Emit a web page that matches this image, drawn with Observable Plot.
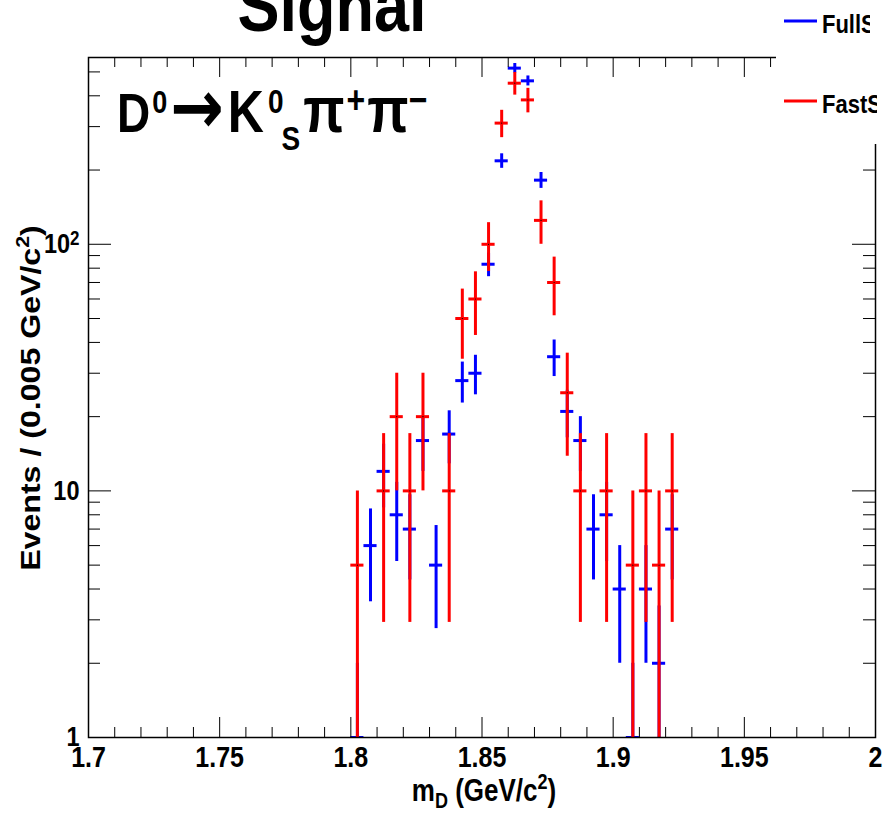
<!DOCTYPE html>
<html><head><meta charset="utf-8">
<script src="https://cdn.jsdelivr.net/npm/d3@7"></script>
<script src="https://cdn.jsdelivr.net/npm/@observablehq/plot@0.6"></script>
<style>html,body{margin:0;padding:0;background:#fff;} #chart{width:885px;height:815px;overflow:hidden;}</style>
</head><body><div id="chart"></div>
<script>
// ---- data ----
const binCenters = [1.8025,1.8075,1.8125,1.8175,1.8225,1.8275,1.8325,1.8375,1.8425,1.8475,1.8525,1.8575,1.8625,1.8675,1.8725,1.8775,1.8825,1.8875,1.8925,1.8975,1.9025,1.9075,1.9125,1.9175,1.9225];
const fullSimEvents = [1,6,12,8,7,16,5,17,28,30,83,218,518,460,182,35,21,16,7,8,4,1,4,2,7];
const fastSimEvents = [5,null,10,20,10,20,null,10,50,60,100,310,450,385,125,70,25,10,null,10,null,5,10,5,10];
const fastSimWeight = 5;
const binWidth = 0.005;
const xTicks = [1.7,1.75,1.8,1.85,1.9,1.95,2.0];
const xTickLabels = ["1.7","1.75","1.8","1.85","1.9","1.95","2"];
const xMinorTicks = [1.71,1.72,1.73,1.74,1.76,1.77,1.78,1.79,1.81,1.82,1.83,1.84,1.86,1.87,1.88,1.89,1.91,1.92,1.93,1.94,1.96,1.97,1.98,1.99];
const yTicks = [1,10,100];
const yTickLabels = ["1","10","10^2"];
const yMinorTicks = [2,3,4,5,6,7,8,9,20,30,40,50,60,70,80,90,200,300,400,500];
const legendLabels = ["FullSim","FastSim"];
const seriesColors = ["#0000ff","#ff0000"];

// ---- derived tables ----
const full = binCenters.map((x,i)=>({x, v: fullSimEvents[i], e: fullSimEvents[i]==null?0:Math.sqrt(fullSimEvents[i])})).filter(d=>d.v!=null);
const fast = binCenters.map((x,i)=>({x, v: fastSimEvents[i], e: fastSimEvents[i]==null?0:Math.sqrt(fastSimWeight*fastSimEvents[i])})).filter(d=>d.v!=null);

const FONT = "'Liberation Sans', Arial, Helvetica, sans-serif";
const W=885, H=815, mT=57, mR=10, mB=78, mL=88;
const FW = W-mL-mR, FH = H-mT-mB;
const K = 1.19; // vertical stretch of text
const SVGNS = "http://www.w3.org/2000/svg";

function errorMarks(data, color) {
  return [
    Plot.ruleX(data, {x: "x", y1: d => Math.max(d.v - d.e, 0.3), y2: d => d.v + d.e, stroke: color, strokeWidth: 3, clip: true}),
    Plot.ruleY(data, {y: "v", x1: d => d.x - binWidth/2, x2: d => d.x + binWidth/2, stroke: color, strokeWidth: 3, clip: true})
  ];
}

const plot = Plot.plot({
  width: W, height: H,
  marginTop: mT, marginRight: mR, marginBottom: mB, marginLeft: mL,
  style: {fontFamily: FONT, fontWeight: "bold", background: "white", color: "black", overflow: "visible"},
  x: {domain: [1.7, 2.0], label: null},
  y: {type: "log", domain: [1, 572], label: null},
  marks: [
    ...errorMarks(full, seriesColors[0]),
    ...errorMarks(fast, seriesColors[1]),
    Plot.dot(fast, {x: "x", y: "v", r: 0.6, fill: "black", stroke: null}),
    // ticks (inward, ROOT style)
    Plot.ruleX(xTicks, {x: d => d, insetTop: FH - 20, stroke: "black", strokeWidth: 1}),
    Plot.ruleX(xMinorTicks, {x: d => d, insetTop: FH - 10, stroke: "black", strokeWidth: 1}),
    Plot.ruleX(xTicks, {x: d => d, insetBottom: FH - 20, stroke: "black", strokeWidth: 1}),
    Plot.ruleX(xMinorTicks, {x: d => d, insetBottom: FH - 10, stroke: "black", strokeWidth: 1}),
    Plot.ruleY(yTicks, {y: d => d, insetRight: FW - 23, stroke: "black", strokeWidth: 1}),
    Plot.ruleY(yMinorTicks, {y: d => d, insetRight: FW - 12, stroke: "black", strokeWidth: 1}),
    Plot.ruleY(yTicks, {y: d => d, insetLeft: FW - 23, stroke: "black", strokeWidth: 1}),
    Plot.ruleY(yMinorTicks, {y: d => d, insetLeft: FW - 12, stroke: "black", strokeWidth: 1}),
    Plot.frame({stroke: "black", strokeWidth: 1.5}),
    Plot.axisX(xTicks, {anchor: "bottom", tickSize: 0, tickPadding: 8, fontSize: 25, fontWeight: "bold", label: null,
      tickFormat: d => xTickLabels[xTicks.indexOf(d)]}),
    Plot.axisY(yTicks, {anchor: "left", tickSize: 0, tickPadding: 9, fontSize: 23.5, fontWeight: "bold", label: null,
      tickFormat: d => yTickLabels[yTicks.indexOf(d)]})
  ]
});
document.getElementById("chart").appendChild(plot);

// stretch tick labels vertically (ROOT canvas look) and render exponents as superscripts
plot.querySelectorAll("text").forEach(t => {
  const tr = t.getAttribute("transform");
  if (tr && tr.indexOf("translate") >= 0) t.setAttribute("transform", `${tr} scale(1,${K})`);
  const s = t.textContent;
  if (s.indexOf("^") >= 0) {
    const [base, ex] = s.split("^");
    const target = t.querySelector("tspan") || t;
    target.textContent = base;
    const sup = document.createElementNS(SVGNS, "tspan");
    sup.setAttribute("dy", "-0.42em");
    sup.setAttribute("font-size", "17");
    sup.textContent = ex;
    target.appendChild(sup);
  }
});

const svg = d3.select(plot);
const g = svg.append("g").attr("font-family", FONT).attr("font-weight", "bold").attr("fill", "black");

// title (clipped at top of canvas)
g.append("text").attr("transform", `translate(332,31) scale(1,${K})`).attr("text-anchor", "middle")
  .attr("font-size", 63).text("Signal");

// decay label
const dl = g.append("text").attr("transform", `translate(117,132) scale(1,${K})`)
  .attr("text-anchor", "start").attr("font-size", 46);
dl.append("tspan").text("D");
dl.append("tspan").attr("font-size", 27).attr("dx", 2).attr("dy", -16).text("0");
dl.append("tspan").attr("font-family", "'DejaVu Sans', sans-serif").attr("font-size", 64).attr("dx", 3).attr("dy", 17).text("\u2192");
dl.append("tspan").attr("font-size", 50).attr("dx", 4).attr("dy", -1).text("K");
dl.append("tspan").attr("font-size", 28).attr("dx", 4).attr("dy", -16).text("0");
dl.append("tspan").attr("font-size", 28).attr("dx", -2).attr("dy", 31).text("S");
dl.append("tspan").attr("font-size", 54).attr("dx", 3).attr("dy", -15).text("\u03C0");
dl.append("tspan").attr("font-size", 32).attr("dx", 2).attr("dy", -16).text("+");
dl.append("tspan").attr("font-size", 54).attr("dx", 2).attr("dy", 16).text("\u03C0");
dl.append("tspan").attr("font-size", 32).attr("dx", 0).attr("dy", -16).text("\u2212");

// y-axis title
const yt = g.append("text").attr("transform", `translate(40,398) rotate(-90) scale(${K},1)`)
  .attr("text-anchor", "middle").attr("font-size", 27);
yt.append("tspan").text("Events / (0.005 GeV/c");
yt.append("tspan").attr("font-size", 18).attr("dy", -11).text("2");
yt.append("tspan").attr("dy", 11).text(")");

// x-axis title
const xt = g.append("text").attr("transform", `translate(484,801) scale(1,${K})`)
  .attr("text-anchor", "middle").attr("font-size", 26);
xt.append("tspan").text("m");
xt.append("tspan").attr("font-size", 18).attr("dy", 6).text("D");
xt.append("tspan").attr("dy", -6).text(" (GeV/c");
xt.append("tspan").attr("font-size", 18).attr("dy", -10).text("2");
xt.append("tspan").attr("dy", 10).text(")");

// legend
const defs = svg.append("defs");
const legClipRight = [870, 877];
legClipRight.forEach((r, i) => {
  defs.append("clipPath").attr("id", "legclip" + i).append("rect")
    .attr("x", 0).attr("y", 0).attr("width", r).attr("height", H);
});
const lg = svg.append("g").attr("font-family", FONT).attr("font-weight", "bold");
lg.append("rect").attr("x", 776).attr("y", 0).attr("width", W - 776).attr("height", 144).attr("fill", "white");
const legY = [21, 101];
legendLabels.forEach((lab, i) => {
  lg.append("line").attr("x1", 784).attr("x2", 817).attr("y1", legY[i]).attr("y2", legY[i])
    .attr("stroke", seriesColors[i]).attr("stroke-width", 3);
  lg.append("g").attr("clip-path", `url(#legclip${i})`)
    .append("text").attr("text-anchor", "start").attr("fill", "black")
    .attr("transform", `translate(822,${legY[i] + 12}) scale(1,${K})`).attr("font-size", 22).text(lab);
});
</script>
</body></html>
